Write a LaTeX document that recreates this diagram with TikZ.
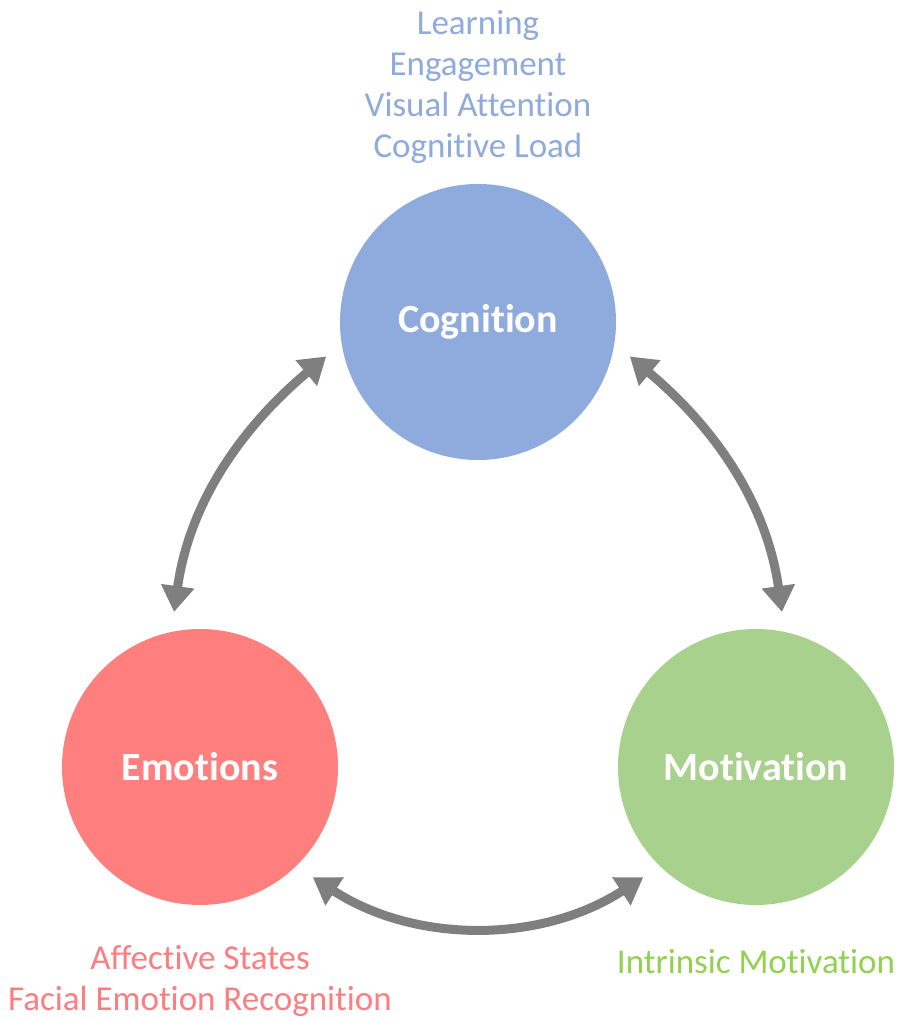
\documentclass[tikz,border=0pt]{standalone}
\usepackage{fontspec}
\setmainfont{Carlito}[RawFeature={-liga;-clig;-calt;-dlig;-rlig;-ccmp}]
\usetikzlibrary{arrows.meta}

\definecolor{cogblue}{HTML}{8FAADC}
\definecolor{emored}{HTML}{FF7F7F}
\definecolor{emotext}{HTML}{FF7C80}
\definecolor{motgreen}{HTML}{A9D18E}
\definecolor{mottext}{HTML}{92D050}
\definecolor{linkgray}{HTML}{7F7F7F}

\tikzset{
  area/.style    = {shape=circle, minimum size=276pt, inner sep=0pt,
                    text=white, font=\fontsize{40}{48}\selectfont\bfseries},
  facets/.style  = {align=center, font=\fontsize{35}{41}\selectfont},
  link/.style    = {draw=linkgray, line width=9pt,
                    {Triangle[length=26pt,width=32pt]}-{Triangle[length=26pt,width=32pt]},
                    shorten <=20pt, shorten >=20pt}
}

\begin{document}
\begin{tikzpicture}[x=1pt, y=1pt]
  \useasboundingbox (0,0) rectangle (900,1020);

  % the three areas
  \node [area, fill=cogblue]  (cog) at (478,698) {Cognition};
  \node [area, fill=emored]   (emo) at (200,253) {Emotions};
  \node [area, fill=motgreen] (mot) at (756,253) {Motivation};

  % what each area covers
  \node [facets, text=cogblue] (cogfacets) at (478,933)
    {Learning\\Engagement\\Visual Attention\\Cognitive Load};
  \node [facets, text=emotext] (emofacets) at (200,39)
    {Affective States\\Facial Emotion Recognition};
  \node [facets, text=mottext] (motfacets) at (756,58)
    {Intrinsic Motivation};

  % two-way links
  \draw [link] (emo.102) to [out=82, in=220]  (cog.189);
  \draw [link] (mot.78)  to [out=98, in=-40]  (cog.351);
  \draw [link] (emo.-46) to [out=-33, in=213] (mot.226);
\end{tikzpicture}
\end{document}
